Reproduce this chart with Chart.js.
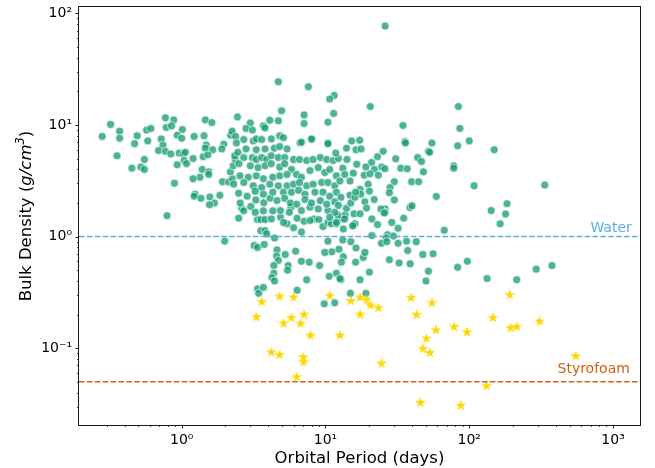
<!DOCTYPE html>
<html>
<head>
<meta charset="utf-8">
<script src="https://cdn.jsdelivr.net/npm/chart.js@4.4.1/dist/chart.umd.min.js"></script>
<style>
  html, body { margin: 0; padding: 0; background: #fff; }
  #wrap { width: 655px; height: 468px; }
</style>
</head>
<body>
<div id="wrap"><canvas id="densityChart" width="655" height="468"></canvas></div>
<script>
// [orbital period (days), bulk density (g/cm^3)]
const planets = [
  [0.28, 7.9], [0.32, 10.1], [0.37, 8.8], [0.37, 7.6], [0.355, 5.3], [0.47, 6.8], [0.49, 8.0],
  [0.45, 4.1], [0.52, 4.2], [0.55, 4.0], [0.55, 4.9], [0.58, 7.2], [0.57, 9.0], [0.61, 9.3],
  [0.77, 11.6], [0.88, 11.1], [0.78, 9.5], [0.85, 9.8], [1.01, 9.1], [0.72, 7.5], [0.74, 6.6],
  [0.69, 5.9], [0.77, 5.8], [0.84, 5.5], [0.93, 8.1], [1.0, 7.6], [0.96, 5.6], [1.03, 5.5],
  [1.06, 5.7], [1.04, 4.8], [1.08, 4.5], [0.93, 4.4], [0.89, 3.0], [0.79, 1.54], [1.22, 7.9],
  [1.2, 5.0], [1.46, 11.1], [1.62, 10.5], [1.43, 8.0], [1.48, 6.6], [1.46, 6.2], [1.64, 6.0],
  [1.41, 5.2], [1.52, 5.4], [1.39, 4.0], [1.54, 3.8], [1.54, 3.6], [1.34, 3.4], [1.2, 3.3],
  [1.24, 2.4], [1.22, 2.3], [1.36, 2.2], [1.57, 2.26], [1.69, 2.0], [1.56, 1.93], [1.84, 2.34],
  [1.92, 3.1], [2.12, 3.08], [2.25, 3.3], [2.18, 3.8], [2.28, 4.3], [2.36, 4.9], [2.34, 5.3],
  [2.46, 5.7], [1.96, 6.7], [1.9, 6.1], [2.19, 8.1], [2.24, 8.8], [2.37, 7.9], [2.44, 11.8],
  [2.49, 2.45], [2.49, 1.46], [1.99, 0.91],
  // below water
  [3.36, 1.42], [3.55, 1.42], [3.8, 1.42], [3.55, 1.13], [3.8, 1.13], [3.9, 1.06], [4.42, 0.97],
  [3.2, 0.83], [3.37, 0.80], [3.75, 0.85], [4.6, 0.76], [4.57, 0.67], [5.25, 0.69], [6.2, 0.74],
  [4.7, 0.61], [4.37, 0.55], [5.5, 0.55], [5.45, 0.50], [4.37, 0.47], [4.24, 0.43], [4.42, 0.40],
  [6.8, 0.60], [7.7, 0.59], [7.4, 0.41], [6.35, 0.33], [9.1, 0.55], [3.37, 0.34], [3.43, 0.31],
  [3.7, 0.35], [4.87, 1.49], [5.4, 1.3], [6.0, 1.2], [6.8, 1.1], [6.34, 1.46], [7.1, 1.37],
  [8.3, 1.44], [9.0, 1.42], [9.6, 1.23], [10.4, 1.34], [11.0, 1.3], [11.9, 1.3], [13.3, 1.17],
  [13.1, 1.44], [10.4, 0.91], [13.2, 0.93], [10.6, 0.44], [11.9, 0.47], [12.8, 0.41], [9.9, 0.72],
  [11.1, 0.73], [12.4, 0.77], [13.3, 0.66], [12.9, 0.59], [9.8, 0.25], [11.6, 0.255], [15.0, 0.90],
  [16.3, 0.79], [16.2, 0.59], [4.85, 1.71], [5.75, 1.83], [6.8, 1.71], [7.8, 1.83], [10.4, 1.71],
  [12.2, 1.55], [13.7, 1.56], [14.0, 1.79], [15.4, 1.25], [3.02, 1.86], [2.61, 1.79], [3.28, 2.13],
  [3.72, 2.01], [4.12, 2.21],
  // long periods and outliers
  [26, 77], [4.7, 24.4], [7.6, 22.0], [11.5, 18.4], [10.7, 17.1], [4.95, 13.4], [20.5, 14.6],
  [84, 14.6], [7.1, 12.3], [7.1, 10.3], [11.4, 12.7], [10.4, 10.6], [34.6, 9.9], [86, 9.3],
  [100, 7.2], [83, 6.5], [149, 6.0], [35.7, 7.1], [36, 6.9], [55, 6.9], [52, 5.8], [53, 5.7],
  [8.0, 7.4], [6.65, 6.9], [10.4, 6.9], [15.2, 7.2], [17.3, 7.3], [14.0, 6.2], [16.3, 6.0],
  [17.7, 6.1], [25.2, 5.8], [23, 5.2], [20.9, 4.6], [30.8, 4.97], [43.7, 5.1], [46.5, 4.7],
  [78, 4.3], [78, 4.1], [33.4, 4.1], [37, 4.05], [48, 3.8], [39.7, 3.1], [44.5, 3.1], [30.1, 3.1],
  [108, 2.85], [59, 2.29], [28.1, 2.75], [27.8, 2.47], [30.1, 2.13], [38.7, 1.82], [40, 1.89],
  [35, 1.46], [28.9, 1.34], [32, 1.19], [67, 1.14], [142, 1.71], [183, 1.97], [179, 1.59],
  [164, 1.3], [335, 2.9], [26, 1.77], [26, 1.65], [24.3, 1.77], [23, 1.28], [21, 1.44], [21, 1.02],
  [27, 1.04], [26.4, 0.97], [29.7, 1.01], [24.5, 0.87], [26.7, 0.9], [32, 0.87], [36.6, 0.91],
  [42.8, 0.9], [37.3, 0.75], [47.5, 0.69], [56, 0.70], [32.5, 0.58], [38.8, 0.57], [27.8, 0.62],
  [83, 0.53], [97, 0.60], [292, 0.51], [376, 0.55], [52, 0.49], [20.2, 0.48], [18.3, 0.65],
  [18.8, 0.72], [12.6, 0.42], [17.4, 0.41], [133, 0.42], [214, 0.41], [50, 0.40], [14.9, 0.31],
  [19.1, 0.31],
  // dense middle
  [3.0, 10.4], [2.8, 9.3], [3.1, 9.0], [3.7, 9.8], [3.8, 9.4], [4.1, 11.0], [4.7, 10.9],
  [2.7, 7.4], [3.15, 7.2], [3.3, 7.5], [3.6, 7.4], [4.2, 7.5], [4.8, 8.0], [5.1, 7.7], [6.8, 7.0],
  [8.0, 7.5], [10.4, 6.8], [2.4, 6.9],
  [2.8, 6.1], [3.3, 6.0], [3.8, 6.1], [4.4, 6.2], [4.8, 6.4], [5.4, 6.1], [2.7, 5.1], [3.1, 5.1],
  [3.3, 4.9], [3.6, 5.1], [3.9, 4.9], [4.2, 5.3], [4.7, 5.1], [5.2, 5.1], [6.0, 4.9], [6.6, 4.9],
  [7.4, 4.8], [8.2, 4.9], [9.2, 5.1], [10.2, 4.9], [11.3, 4.8], [12.3, 5.0],
  [2.5, 4.5], [3.0, 4.3], [3.4, 4.15], [3.8, 4.3], [4.2, 4.5], [4.8, 4.2], [5.2, 4.5], [5.8, 4.0],
  [6.3, 3.6], [6.8, 3.4], [7.8, 3.9], [8.9, 4.15], [9.9, 3.75], [10.7, 4.0], [11.9, 3.5],
  [2.54, 3.5], [2.9, 3.4], [3.3, 3.5], [3.7, 3.3], [4.3, 3.4], [4.8, 3.5], [5.4, 3.6],
  [2.3, 2.95], [2.7, 3.05], [3.15, 2.85], [3.6, 2.75], [4.1, 2.95], [4.7, 2.85], [5.4, 2.85],
  [6.0, 2.95], [6.6, 3.05], [7.4, 2.85], [8.2, 2.95], [9.4, 3.05], [10.4, 3.05], [11.6, 2.85],
  [12.6, 3.15], [2.85, 2.3], [3.25, 2.55], [3.7, 2.4], [4.3, 2.5], [5.1, 2.5], [5.8, 2.5],
  [6.5, 2.6], [7.2, 2.4], [8.45, 2.5], [9.6, 2.5], [10.7, 2.3], [11.9, 2.5],
  [2.55, 2.0], [4.6, 2.1], [5.2, 2.2], [5.7, 2.0], [6.3, 1.95], [7.2, 2.15], [8.0, 2.0], [9.2, 2.1],
  [10.2, 1.95], [11.6, 2.05], [2.7, 1.7], [3.25, 1.65], [3.7, 1.7], [4.3, 1.7], [5.6, 1.65],
  [8.9, 1.77], [11.6, 1.65], [4.2, 1.44], [5.1, 1.34], [7.8, 1.39], [10.7, 1.49], [11.9, 1.34],
  [11.8, 5.6], [14.1, 4.9], [16.5, 4.45], [13.2, 4.1], [19.1, 4.2], [21.9, 4.0], [24.6, 4.2],
  [23.3, 3.55], [18.6, 3.55], [15.6, 3.7], [13.6, 3.6], [14.8, 3.15], [19.8, 2.95], [17.4, 2.65],
  [14.8, 2.35], [21.8, 2.15], [18.8, 2.05], [15.0, 2.0], [12.8, 2.25], [12.3, 1.9], [15.8, 1.6],
  [13.6, 1.44], [20.2, 2.55], [17.6, 2.4], [16.0, 2.25], [19.3, 1.8], [17.4, 1.6], [16.0, 1.3],
  [20.4, 3.65], [16.2, 2.5], [25.9, 4.05], [15.5, 1.25], [25.6, 1.63]
];

// low-density planets, lighter than water
const puffyPlanets = [
  [3.3, 0.19], [3.6, 0.26], [4.8, 0.29], [6.0, 0.285], [5.1, 0.167], [5.8, 0.187], [6.7, 0.166],
  [7.1, 0.20], [7.85, 0.13], [4.2, 0.092], [4.8, 0.087], [7.0, 0.083], [7.05, 0.075], [6.3, 0.055],
  [10.7, 0.295], [12.6, 0.13], [15.0, 0.266], [17.4, 0.285], [19.3, 0.272], [20.5, 0.242],
  [23.3, 0.23], [17.4, 0.20], [24.5, 0.073], [39.4, 0.283], [43, 0.20], [55, 0.254], [58.6, 0.145],
  [50.3, 0.122], [47.5, 0.099], [53.3, 0.091], [78.5, 0.155], [96.5, 0.139], [191, 0.30],
  [146, 0.187], [194, 0.152], [214, 0.156], [308, 0.174], [550, 0.085], [132, 0.046],
  [45.7, 0.0325], [87.4, 0.0306]
];

const references = [
  { name: 'Water', density: 1.0, color: '#5DADE2', labelAt: [1350, 1.1] },
  { name: 'Styrofoam', density: 0.05, color: '#D35F12', labelAt: [1310, 0.06] }
];

const xLimits = [0.193, 1540];
const yLimits = [0.0205, 114];

const FONT = "'DejaVu Sans', 'Liberation Sans', sans-serif";
const SUP = { '-': '\u207B', '0': '\u2070', '1': '\u00B9', '2': '\u00B2', '3': '\u00B3' };

function isPow10(v) {
  const e = Math.round(Math.log10(v));
  return Math.abs(v - Math.pow(10, e)) < 1e-9 * Math.pow(10, e);
}
function isNiceTick(v) {
  const e = Math.floor(Math.log10(v) + 1e-9);
  const m = v / Math.pow(10, e);
  return Math.abs(m - Math.round(m)) < 1e-6;
}
function powLabel(v) {
  if (!isPow10(v)) return '';
  const e = String(Math.round(Math.log10(v)));
  return '10' + e.split('').map(c => SUP[c]).join('');
}

function makeStar(size, color) {
  const c = document.createElement('canvas');
  c.width = c.height = size;
  const g = c.getContext('2d');
  const R = size / 2 - 0.3, r = R * 0.382;
  g.beginPath();
  for (let i = 0; i < 10; i++) {
    const a = -Math.PI / 2 + i * Math.PI / 5;
    const rad = i % 2 ? r : R;
    g.lineTo(size / 2 + rad * Math.cos(a), size / 2 + rad * Math.sin(a));
  }
  g.closePath();
  g.fillStyle = color;
  g.fill();
  return c;
}

// tick marks, frame, reference labels and the y title
const axesDecor = {
  id: 'axesDecor',
  afterDraw(chart) {
    const { ctx, chartArea: a, scales } = chart;
    ctx.save();
    ctx.strokeStyle = '#000';
    scales.x.ticks.forEach(t => {
      const px = Math.round(scales.x.getPixelForValue(t.value)) + 0.5;
      const major = isPow10(t.value);
      ctx.lineWidth = major ? 0.9 : 0.7;
      ctx.beginPath();
      ctx.moveTo(px, a.bottom);
      ctx.lineTo(px, a.bottom + (major ? 3.5 : 2));
      ctx.stroke();
    });
    scales.y.ticks.forEach(t => {
      const py = Math.round(scales.y.getPixelForValue(t.value)) + 0.5;
      const major = isPow10(t.value);
      ctx.lineWidth = major ? 0.9 : 0.7;
      ctx.beginPath();
      ctx.moveTo(a.left, py);
      ctx.lineTo(a.left - (major ? 3.5 : 2), py);
      ctx.stroke();
    });
    ctx.lineWidth = 1;
    ctx.strokeStyle = '#1a1a1a';
    ctx.strokeRect(a.left - 0.5, a.top - 0.5, a.right - a.left + 1, a.bottom - a.top + 1);

    ctx.font = '14px ' + FONT;
    ctx.textAlign = 'right';
    ctx.textBaseline = 'alphabetic';
    references.forEach(ref => {
      ctx.fillStyle = ref.color;
      ctx.fillText(ref.name, scales.x.getPixelForValue(ref.labelAt[0]), scales.y.getPixelForValue(ref.labelAt[1]));
    });

    // axis titles
    ctx.fillStyle = '#000';
    ctx.textAlign = 'center';
    ctx.font = '16.5px ' + FONT;
    ctx.fillText('Orbital Period (days)', (a.left + a.right) / 2, 463);

    const parts = [
      { t: 'Bulk Density (', f: '16.5px ' + FONT, dy: 0 },
      { t: 'g/cm', f: 'italic 16.5px ' + FONT, dy: 0 },
      { t: '3', f: 'italic 11.5px ' + FONT, dy: -7 },
      { t: ')', f: '16.5px ' + FONT, dy: 0 }
    ];
    let total = 0;
    parts.forEach(p => { ctx.font = p.f; p.w = ctx.measureText(p.t).width; total += p.w; });
    ctx.translate(31, (a.top + a.bottom) / 2);
    ctx.rotate(-Math.PI / 2);
    ctx.textAlign = 'left';
    let x = -total / 2;
    parts.forEach(p => { ctx.font = p.f; ctx.fillText(p.t, x, p.dy); x += p.w; });
    ctx.restore();
  }
};

const toPoints = rows => rows.map(([x, y]) => ({ x, y }));

const ctx = document.getElementById('densityChart').getContext('2d');
new Chart(ctx, {
  type: 'scatter',
  data: {
    datasets: [
      ...references.map(ref => ({
        type: 'line',
        data: [{ x: xLimits[0], y: ref.density }, { x: xLimits[1], y: ref.density }],
        borderColor: ref.color,
        borderWidth: 1.5,
        borderDash: [5.5, 2.4],
        pointRadius: 0,
        order: 0
      })),
      {
        data: toPoints(puffyPlanets),
        pointStyle: makeStar(12, '#FFD700'),
        pointRadius: 6,
        order: 1
      },
      {
        data: toPoints(planets),
        backgroundColor: 'rgba(27, 158, 119, 0.78)',
        borderColor: 'rgba(255, 255, 255, 0.8)',
        borderWidth: 0.8,
        pointRadius: 4,
        order: 2
      }
    ]
  },
  options: {
    responsive: false,
    animation: false,
    events: [],
    layout: { padding: { top: 5, right: 15, left: 0, bottom: 0 } },
    plugins: { legend: { display: false }, tooltip: { enabled: false } },
    scales: {
      x: {
        type: 'logarithmic',
        min: xLimits[0],
        max: xLimits[1],
        afterBuildTicks: s => { s.ticks = s.ticks.filter(t => isNiceTick(t.value)); },
        afterFit: s => { s.height = 43; s.paddingLeft = 0; s.paddingRight = 0; },
        grid: { display: true, drawOnChartArea: false, drawTicks: true, tickLength: 3.5, tickColor: 'rgba(0,0,0,0)' },
        border: { display: false },
        ticks: {
          autoSkip: false, maxRotation: 0, padding: 3, color: '#000',
          font: { family: FONT, size: 14 },
          callback: v => powLabel(v)
        }
      },
      y: {
        type: 'logarithmic',
        min: yLimits[0],
        max: yLimits[1],
        afterBuildTicks: s => { s.ticks = s.ticks.filter(t => isNiceTick(t.value)); },
        afterFit: s => { s.width = 79; s.paddingTop = 0; s.paddingBottom = 0; },
        grid: { display: true, drawOnChartArea: false, drawTicks: true, tickLength: 3.5, tickColor: 'rgba(0,0,0,0)' },
        border: { display: false },
        ticks: {
          autoSkip: false, padding: 3.5, color: '#000',
          font: { family: FONT, size: 14 },
          callback: v => powLabel(v)
        }
      }
    }
  },
  plugins: [axesDecor]
});
</script>
</body>
</html>
